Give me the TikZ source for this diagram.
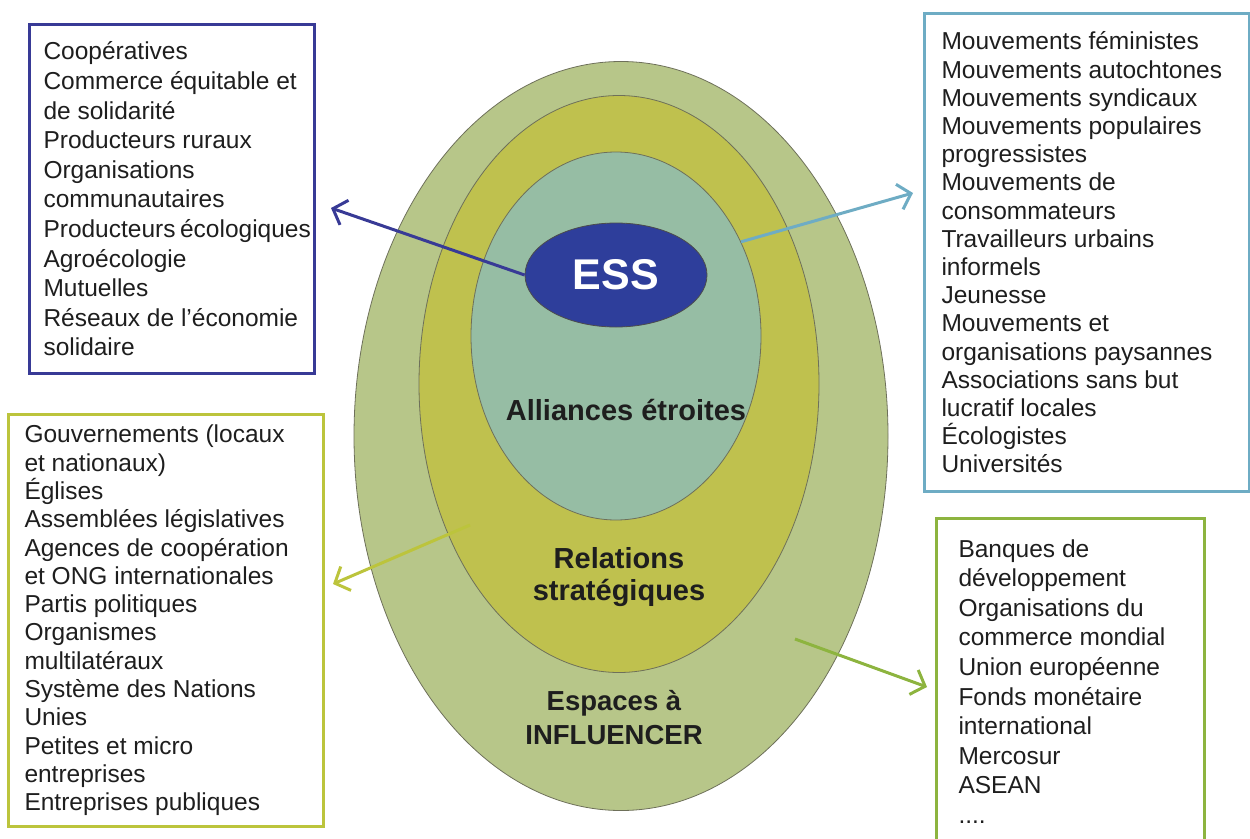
\documentclass[tikz,border=0pt]{standalone}
\usepackage{fontspec}
\setmainfont{Liberation Sans}
\usetikzlibrary{arrows.meta,shapes.geometric}

\definecolor{outerfill}{RGB}{183,198,137}
\definecolor{middlefill}{RGB}{191,193,78}
\definecolor{innerfill}{RGB}{150,189,164}
\definecolor{essblue}{RGB}{46,62,155}
\definecolor{ringline}{RGB}{110,112,90}
\definecolor{boxblue}{RGB}{56,58,150}
\definecolor{boxcyan}{RGB}{110,172,196}
\definecolor{boxolive}{RGB}{188,196,60}
\definecolor{boxgreen}{RGB}{141,180,63}
\definecolor{textgray}{RGB}{30,30,30}

\begin{document}
\begin{tikzpicture}[
          x=1pt, y=-1pt,
          ring/.style={
            draw=ringline,
            line width=0.8pt,
            ellipse,
            inner sep=0pt,
          },
          listbox/.style={
            draw,
            line width=3pt,
            anchor=north west,
            align=flush left,
            inner ysep=0pt,
            text=textgray,
          },
          ringlabel/.style={
            align=center,
            text=textgray,
            font=\bfseries\fontsize{29}{32}\selectfont,
          },
          link/.style={->, line width=3pt},
          >={Straight Barb[length=12pt,width=26pt]},
        ]
        \useasboundingbox (0,0) rectangle (1250,838);
        % the three rings and the core
        \node[ring, fill=outerfill, minimum width=534pt, minimum height=749pt] (outer) at (621,436) {};
        \node[ring, fill=middlefill, minimum width=400pt, minimum height=577pt] (middle) at (619,384) {};
        \node[ring, fill=innerfill, minimum width=290pt, minimum height=368pt] (inner) at (616,336) {};
        \node[ring, fill=essblue, draw=black!70, minimum width=182pt, minimum height=104pt,
              text=white, font=\bfseries\fontsize{43}{43}\selectfont] (ess) at (616,275) {ESS};
        \node[ringlabel] (closelbl) at (626,410) {Alliances étroites};
        \node[ringlabel] (stratlbl) at (619,577) {Relations\\stratégiques};
        \node[ringlabel, font=\bfseries\fontsize{27.5}{34}\selectfont] (infllbl) at (614,718) {Espaces à\\INFLUENCER};
        % the four lists
        \node[listbox, draw=boxblue, text width=257pt, inner xsep=14pt, minimum height=349pt,
              font=\fontsize{24.5}{29.6}\selectfont] (ssebox) at (28,23)
          {Coopératives\\ Commerce équitable et\\ de solidarité\\ Producteurs ruraux\\
           Organisations\\ communautaires\\ Producteurs~écologiques\\ Agroécologie\\
           Mutuelles\\ Réseaux~de~l’économie\\ solidaire};
        \node[listbox, draw=boxcyan, text width=291pt, inner xsep=17pt, minimum height=478pt,
              font=\fontsize{24.5}{28.2}\selectfont] (allybox) at (923,12)
          {Mouvements féministes\\ Mouvements autochtones\\ Mouvements syndicaux\\
           Mouvements populaires\\ progressistes\\ Mouvements de\\ consommateurs\\
           Travailleurs urbains\\ informels\\ Jeunesse\\ Mouvements et\\
           organisations paysannes\\ Associations sans but\\ lucratif locales\\
           Écologistes\\ Universités};
        \node[listbox, draw=boxolive, text width=283pt, inner xsep=16pt, minimum height=412pt,
              font=\fontsize{24.5}{28.3}\selectfont] (stratbox) at (7,413)
          {Gouvernements (locaux\\ et nationaux)\\ Églises\\ Assemblées législatives\\
           Agences de coopération\\ et ONG internationales\\ Partis politiques\\
           Organismes\\ multilatéraux\\ Système des Nations\\ Unies\\
           Petites et micro\\ entreprises\\ Entreprises publiques};
        \node[listbox, draw=boxgreen, text width=224pt, inner xsep=22pt, minimum height=326pt,
              font=\fontsize{24.5}{29.6}\selectfont] (inflbox) at (935,517)
          {Banques de\\ développement\\ Organisations du\\ commerce mondial\\
           Union européenne\\ Fonds monétaire\\ international\\ Mercosur\\ ASEAN\\ ....};
        % arrows out to the lists
        \coordinate (sseend) at (331,208);
        \coordinate (allyend) at (913,193);
        \coordinate (stratstart) at (470,525);
        \coordinate (stratend) at (333,584);
        \coordinate (inflstart) at (795,639);
        \coordinate (inflend) at (927,687);
        \draw[link, boxblue] (ess.west) -- (sseend);
        \draw[link, boxcyan] (inner.37.6) -- (allyend);
        \draw[link, boxolive] (stratstart) -- (stratend);
        \draw[link, boxgreen] (inflstart) -- (inflend);
        \end{tikzpicture}
\end{document}
